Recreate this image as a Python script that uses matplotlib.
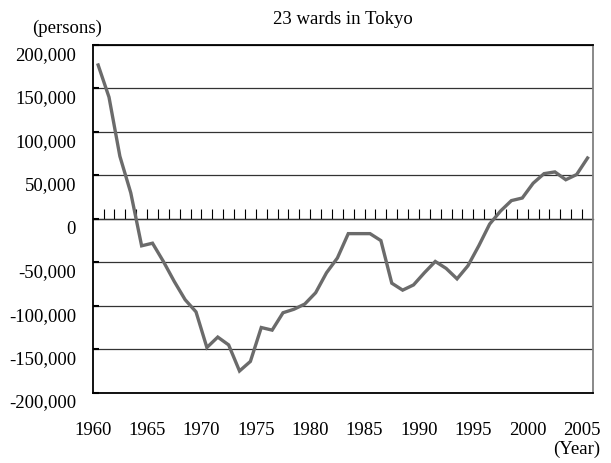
import matplotlib
matplotlib.use('agg')
import matplotlib.pyplot as plt
import matplotlib.ticker as mticker
import matplotlib.transforms as mtransforms

# net migration, 23 wards in Tokyo
years = list(range(1960, 2006))
persons = [177000, 140000, 72000, 30000, -31000, -28000, -49000, -72000, -93000, -107000,
           -148000, -136000, -145000, -175000, -164000, -125000, -128000, -108000, -104000, -98000,
           -85000, -62000, -45000, -17000, -17000, -17000, -25000, -74000, -82000, -76000,
           -62000, -49000, -57000, -69000, -54000, -31000, -6000, 9000, 21000, 24000,
           41000, 52000, 54000, 45000, 51000, 70000]
label_years = [1960, 1965, 1970, 1975, 1980, 1985, 1990, 1995, 2000, 2005]
y_ticks = [200000, 150000, 100000, 50000, 0, -50000, -100000, -150000, -200000]

plt.rcParams['font.family'] = ['Liberation Serif', 'DejaVu Serif']
plt.rcParams['font.size'] = 13.5

fig = plt.figure(figsize=(6.11, 4.63), dpi=100)
ax = fig.add_axes([0.1517, 0.1518, 0.8188, 0.751])

ax.plot(years, persons, color='#6b6b6b', lw=2.4, solid_joinstyle='miter', zorder=3)

ax.set_xlim(years[0] - 0.5, years[-1] + 0.5)
ax.set_ylim(min(y_ticks), max(y_ticks))

ax.set_yticks(y_ticks)
ax.yaxis.set_major_formatter(mticker.FuncFormatter(lambda v, p: f"{int(v):,}"))
ax.tick_params(axis='y', direction='in', length=4, width=1.5, pad=12)
shift = mtransforms.ScaledTranslation(0, -6 / 72, fig.dpi_scale_trans)
for lab in ax.get_yticklabels():
    lab.set_transform(lab.get_transform() + shift)

ax.set_xticks([y - 0.5 for y in label_years])
ax.set_xticklabels([str(y) for y in label_years])
ax.tick_params(axis='x', length=0, pad=21)

ax.yaxis.grid(True, color='#333333', lw=0.9)
ax.set_axisbelow(True)
for s in ax.spines.values():
    s.set_linewidth(1.3)
    s.set_color('black')
ax.spines['right'].set_color('#808080')

# small ticks along the zero line, between years
zero_ax = ax.secondary_xaxis(0.5)
zero_ax.set_xticks([y + 0.5 for y in years[:-1]])
zero_ax.tick_params(direction='out', length=7, width=0.8, labeltop=False, labelbottom=False)
for s in zero_ax.spines.values():
    s.set_linewidth(0.9)

ax.set_title('23 wards in Tokyo', fontsize=13.5, pad=15)
fig.text(32 / 611, 1 - 28 / 463, '(persons)', ha='left', va='center')
fig.text(600 / 611, 1 - 449 / 463, '(Year)', ha='right', va='center')

fig.savefig('out.png', dpi=100)
